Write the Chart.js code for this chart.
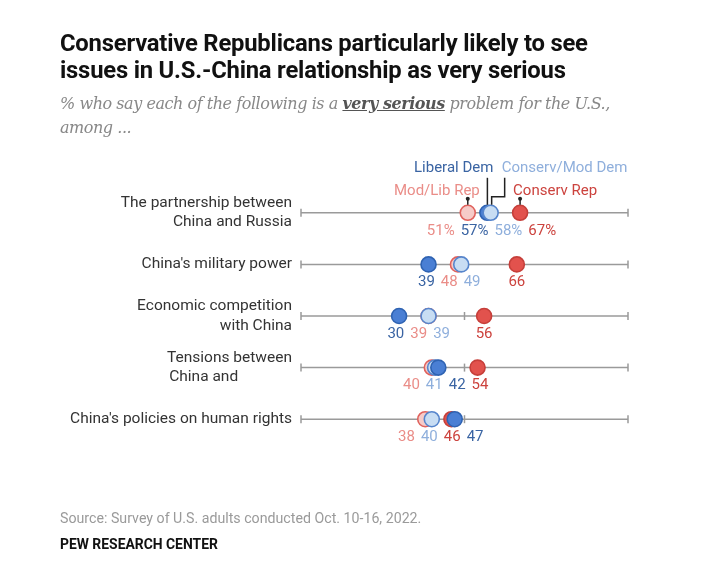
<!DOCTYPE html>
<html lang="en">
<head>
    <meta charset="UTF-8">
    <title>U.S.-China issues by party</title>
    <script src="https://cdn.jsdelivr.net/npm/chart.js"></script>
    <style>
        body { margin: 0; background: #fff; }
        .page { position: relative; width: 704px; height: 586px; overflow: hidden; }
        .chart-container { position: absolute; left: 0; top: 0; width: 704px; height: 586px; }
        .title {
            position: absolute; left: 60px; top: 30px; width: 640px;
            font: 700 23.8px/27px Roboto, sans-serif; color: #111; letter-spacing: -0.2px;
        }
        .subtitle {
            position: absolute; left: 60px; top: 92px; width: 640px;
            font: italic 16px/24px "DejaVu Serif", Georgia, serif; color: #888; letter-spacing: -0.45px;
        }
        .subtitle b { color: #555; text-decoration: underline; }
        .source {
            position: absolute; left: 60px; top: 510px;
            font: 14.2px Roboto, sans-serif; color: #9a9a9a;
        }
        .credit {
            position: absolute; left: 60px; top: 536px;
            font: 700 13.9px Roboto, sans-serif; color: #111;
        }
    </style>
</head>
<body>
<div class="page">
    <div class="chart-container">
        <canvas id="myChart"></canvas>
    </div>
    <div class="title">Conservative Republicans particularly likely to see<br>issues in U.S.-China relationship as very serious</div>
    <div class="subtitle">% who say each of the following is a <b>very serious</b> problem for the U.S.,<br>among ...</div>
    <div class="source">Source: Survey of U.S. adults conducted Oct. 10-16, 2022.</div>
    <div class="credit">PEW RESEARCH CENTER</div>
</div>

<script>
    const rowLabels = [
        ["The partnership between", "China and Russia"],
        "China's military power",
        ["Economic competition", "with China"],
        ["Tensions between", "China and              "],
        "China's policies on human rights"
    ];
    const groups = ["Mod/Lib Rep", "Conserv Rep", "Liberal Dem", "Conserv/Mod Dem"];
    const modLibRep = [51, 48, 39, 40, 38];
    const conservRep = [67, 66, 56, 54, 46];
    const liberalDem = [57, 39, 30, 42, 47];
    const conservModDem = [58, 49, 39, 41, 40];
    const axisTicks = [0, 50, 100];

    const series = [modLibRep, conservRep, liberalDem, conservModDem];
    const fills = ['#f6cbc8', '#e2524d', '#4a7fd4', '#c8ddf3'];
    const borders = ['#e0625d', '#c63f3a', '#2f63b2', '#5685cc'];
    const textColors = ['#ea8d88', '#cc433e', '#3a64a3', '#8fafdc'];

    // one point per group and row, sorted so the rightmost dot sits on top
    const points = [];
    rowLabels.forEach((_, r) => {
        const row = series.map((s, g) => ({ x: s[r], y: r, g: g }));
        row.sort((a, b) => a.x - b.x);
        points.push(...row);
    });

    const rowLines = {
        id: 'rowLines',
        beforeDatasetsDraw(chart) {
            const { ctx, scales: { x, y } } = chart;
            ctx.save();
            ctx.strokeStyle = '#9a9a9a';
            ctx.lineWidth = 1.5;
            rowLabels.forEach((_, r) => {
                const py = y.getPixelForValue(r);
                ctx.beginPath();
                ctx.moveTo(x.getPixelForValue(0), py);
                ctx.lineTo(x.getPixelForValue(100), py);
                ctx.stroke();
                axisTicks.forEach(t => {
                    const px = x.getPixelForValue(t);
                    ctx.beginPath();
                    ctx.moveTo(px, py - 4);
                    ctx.lineTo(px, py + 4);
                    ctx.stroke();
                });
            });
            ctx.restore();
        }
    };

    const valueLabels = {
        id: 'valueLabels',
        afterDatasetsDraw(chart) {
            const { ctx, scales: { x, y } } = chart;
            const gap = 6;
            ctx.save();
            ctx.font = '15px Roboto';
            ctx.textBaseline = 'middle';
            ctx.textAlign = 'center';
            rowLabels.forEach((_, r) => {
                const items = series.map((s, g) => {
                    const text = s[r] + (r === 0 ? '%' : '');
                    return { g: g, v: s[r], text: text, w: ctx.measureText(text).width, px: x.getPixelForValue(s[r]) };
                });
                items.sort((a, b) => a.v - b.v);
                // merge overlapping labels into clusters centred on their dots
                let clusters = items.map(it => ({ items: [it], want: it.px }));
                const width = c => c.items.reduce((s, it) => s + it.w, 0) + gap * (c.items.length - 1);
                let merged = true;
                while (merged) {
                    merged = false;
                    for (let i = 0; i < clusters.length - 1; i++) {
                        const a = clusters[i], b = clusters[i + 1];
                        if (a.want + width(a) / 2 + gap > b.want - width(b) / 2) {
                            const all = a.items.concat(b.items);
                            clusters.splice(i, 2, { items: all, want: all.reduce((s, it) => s + it.px, 0) / all.length });
                            merged = true;
                            break;
                        }
                    }
                }
                const py = y.getPixelForValue(r) + 18;
                clusters.forEach(c => {
                    let left = c.want - width(c) / 2;
                    c.items.forEach(it => {
                        ctx.fillStyle = textColors[it.g];
                        ctx.fillText(it.text, left + it.w / 2, py);
                        left += it.w + gap;
                    });
                });
            });
            ctx.restore();
        }
    };

    const groupKey = {
        id: 'groupKey',
        afterDatasetsDraw(chart) {
            const { ctx, scales: { x, y } } = chart;
            const py = y.getPixelForValue(0);
            const top = py - 8;
            const px = series.map(s => x.getPixelForValue(s[0]));
            ctx.save();
            ctx.font = '15px Roboto';
            ctx.textBaseline = 'middle';
            ctx.strokeStyle = '#222';
            ctx.fillStyle = '#222';
            ctx.lineWidth = 1.5;

            // short ticks for the Republican groups
            [0, 1].forEach(g => {
                ctx.beginPath();
                ctx.moveTo(px[g], top - 6);
                ctx.lineTo(px[g], top);
                ctx.stroke();
                ctx.beginPath();
                ctx.arc(px[g], top - 6, 2, 0, Math.PI * 2);
                ctx.fill();
            });
            // leaders for the Democratic groups
            ctx.beginPath();
            ctx.moveTo(px[2], py - 35);
            ctx.lineTo(px[2], top);
            ctx.stroke();
            ctx.beginPath();
            ctx.moveTo(px[3] + 14, py - 35);
            ctx.lineTo(px[3] + 14, py - 16);
            ctx.lineTo(px[3] + 1, py - 16);
            ctx.lineTo(px[3] + 1, top);
            ctx.stroke();

            ctx.fillStyle = textColors[0];
            ctx.textAlign = 'right';
            ctx.fillText(groups[0], px[0] + 12, py - 22);
            ctx.fillStyle = textColors[1];
            ctx.textAlign = 'left';
            ctx.fillText(groups[1], px[1] - 7, py - 22);
            ctx.fillStyle = textColors[2];
            ctx.textAlign = 'right';
            ctx.fillText(groups[2], px[2] + 6, py - 45);
            ctx.fillStyle = textColors[3];
            ctx.textAlign = 'left';
            ctx.fillText(groups[3], px[3] + 11, py - 45);
            ctx.restore();
        }
    };

    Chart.defaults.font.family = 'Roboto';

    const ctx = document.getElementById('myChart').getContext('2d');
    window.myDotChart = new Chart(ctx, {
        type: 'scatter',
        data: {
            datasets: [{
                label: 'Very serious problem',
                data: points,
                pointRadius: 7.5,
                pointHoverRadius: 7.5,
                pointBorderWidth: 1.6,
                backgroundColor: c => fills[c.raw ? c.raw.g : 0],
                borderColor: c => borders[c.raw ? c.raw.g : 0]
            }]
        },
        options: {
            responsive: true,
            maintainAspectRatio: false,
            animation: false,
            layout: { padding: { left: 0, right: 76, top: 187, bottom: 141 } },
            scales: {
                x: { type: 'linear', min: 0, max: 100, display: false },
                y: {
                    type: 'linear',
                    min: -0.5,
                    max: rowLabels.length - 0.5,
                    reverse: true,
                    grid: { display: false, drawTicks: false },
                    border: { display: false },
                    afterBuildTicks: s => { s.ticks = rowLabels.map((_, i) => ({ value: i })); },
                    afterFit: s => { s.width = 301; },
                    ticks: {
                        autoSkip: false,
                        padding: 9,
                        color: '#333',
                        font: { size: 15.5, lineHeight: 1.25 },
                        callback: v => rowLabels[v]
                    }
                }
            },
            plugins: {
                legend: { display: false },
                tooltip: { enabled: false }
            }
        },
        plugins: [rowLines, valueLabels, groupKey]
    });
</script>
</body>
</html>
